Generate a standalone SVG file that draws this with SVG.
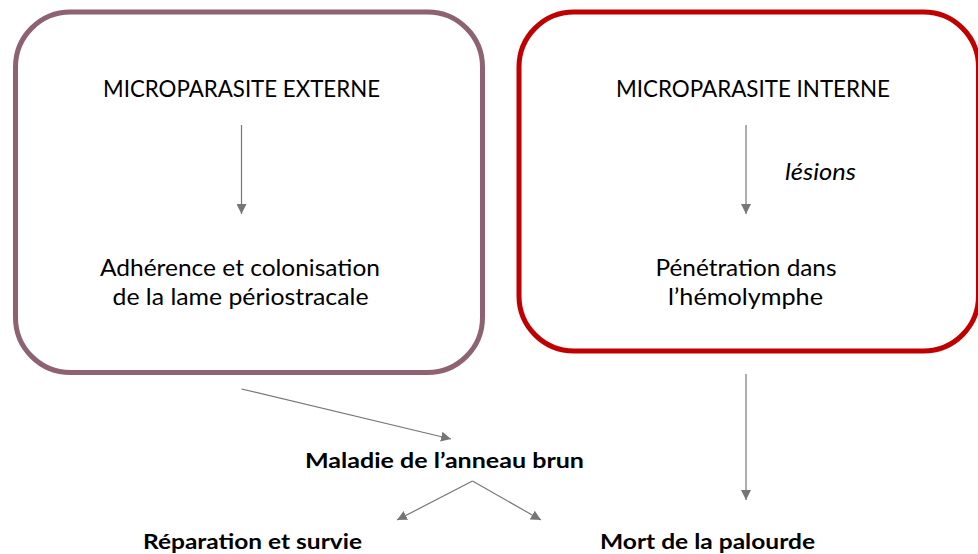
<svg xmlns="http://www.w3.org/2000/svg" width="978" height="554" viewBox="0 0 978 554">
<defs>
<style>
.t{font-family:Lato,"Open Sans","Liberation Sans",sans-serif;font-size:24px;fill:#000;text-anchor:middle}
.b{font-weight:bold;font-size:20px}
.i{font-style:italic;text-anchor:start}
.c{stroke:#767676;stroke-width:1.2;fill:none;marker-end:url(#ah)}
.box{fill:#fff;stroke-width:5}
</style>
<marker id="ah" markerUnits="userSpaceOnUse" markerWidth="10" markerHeight="10" refX="9" refY="4.5" orient="auto" viewBox="0 0 9 9">
<path d="M0,0 L9,4.5 L0,9 z" fill="#767676"/>
</marker>
</defs>
<rect width="978" height="554" fill="#fff"/>
<g id="externe">
<rect class="box" x="15.5" y="12" width="467" height="360.5" rx="55" ry="55" stroke="#8E6272"/>
<text class="t" x="241.5" y="97" textLength="277" lengthAdjust="spacingAndGlyphs">MICROPARASITE EXTERNE</text>
</g>
<g id="adherence">
<text class="t" x="240" y="276" textLength="280" lengthAdjust="spacingAndGlyphs">Adhérence et colonisation</text>
<text class="t" x="240.5" y="305" textLength="256" lengthAdjust="spacingAndGlyphs">de la lame périostracale</text>
</g>
<g id="interne">
<rect class="box" x="519" y="12" width="459.5" height="339" rx="55" ry="55" stroke="#C00000"/>
<text class="t" x="753" y="97" textLength="274" lengthAdjust="spacingAndGlyphs">MICROPARASITE INTERNE</text>
</g>
<g id="penetration">
<text class="t" x="746" y="276" textLength="181" lengthAdjust="spacingAndGlyphs">Pénétration dans</text>
<text class="t" x="745.5" y="305" textLength="155" lengthAdjust="spacingAndGlyphs">l’hémolymphe</text>
</g>
<g id="maladie">
<text class="t b" x="444.5" y="467.5" textLength="279" lengthAdjust="spacingAndGlyphs">Maladie de l’anneau brun</text>
</g>
<g id="reparation">
<text class="t b" x="252.5" y="549" textLength="219" lengthAdjust="spacingAndGlyphs">Réparation et survie</text>
</g>
<g id="mort">
<text class="t b" x="707.5" y="549" textLength="215" lengthAdjust="spacingAndGlyphs">Mort de la palourde</text>
</g>
<g id="connectors">
<line class="c" x1="241.5" y1="125" x2="241.5" y2="214"/>
<line class="c" x1="746" y1="125" x2="746" y2="214"/>
<text class="t i" x="785" y="180" textLength="71" lengthAdjust="spacingAndGlyphs">lésions</text>
<line class="c" x1="241.5" y1="389" x2="451" y2="439"/>
<line class="c" x1="746" y1="374" x2="746" y2="500"/>
<line class="c" x1="472.5" y1="481" x2="397" y2="520"/>
<line class="c" x1="472.5" y1="481" x2="541" y2="520"/>
</g>
</svg>
